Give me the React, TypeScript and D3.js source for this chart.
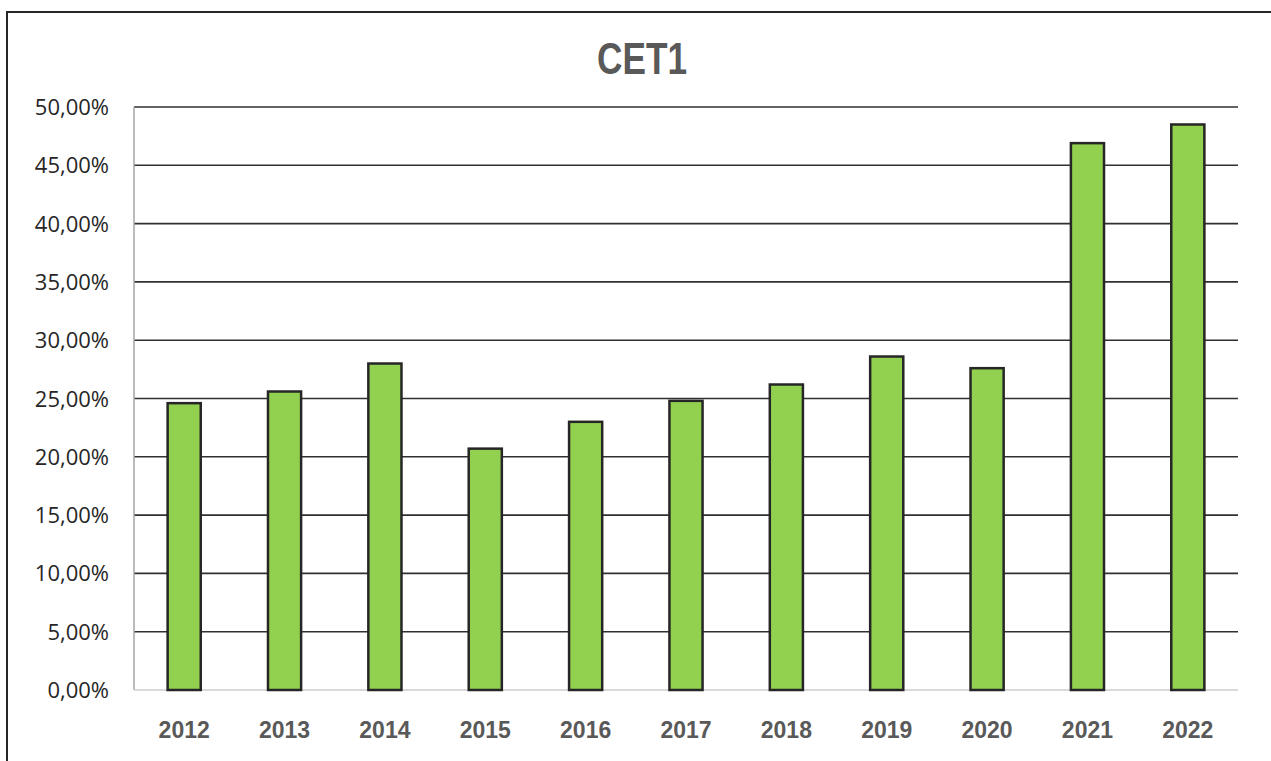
import React from 'react';
import * as d3 from 'd3';

const years = ['2012', '2013', '2014', '2015', '2016', '2017', '2018', '2019', '2020', '2021', '2022'];
const cet1 = [24.6, 25.6, 28.0, 20.7, 23.0, 24.8, 26.2, 28.6, 27.6, 46.9, 48.5];
const yTicks = [0, 5, 10, 15, 20, 25, 30, 35, 40, 45, 50];

const W = 1271;
const H = 761;
const margin = { top: 107, right: 33, bottom: 71, left: 134 };

export default function App() {
  const x = d3.scaleBand()
    .domain(years)
    .range([margin.left, W - margin.right])
    .paddingInner(0.67)
    .paddingOuter(0.335);

  const y = d3.scaleLinear()
    .domain([0, 50])
    .range([H - margin.bottom, margin.top]);

  const fmt = (v: number) => v.toFixed(2).replace('.', ',') + '%';

  return (
    <svg width={W} height={H} style={{ position: 'absolute', left: 0, top: 0, background: '#fff' }}>
      <rect x={7} y={12} width={W} height={H} fill="none" stroke="#262626" strokeWidth={2} />

      {/* narrow bold title, squeezed since no narrow font is installed */}
      <text transform="translate(642,74) scale(0.8,1)" textAnchor="middle" fill="#595959"
        fontFamily="'Liberation Sans', Arial, sans-serif"
        fontWeight="bold" fontSize={44}>CET1</text>

      {yTicks.filter(t => t > 0).map(t => (
        <line key={t} x1={margin.left} x2={W - margin.right} y1={y(t)} y2={y(t)}
          stroke="#303030" strokeWidth={1.6} />
      ))}
      <line x1={margin.left} x2={margin.left} y1={y(50)} y2={y(0)} stroke="#a6a6a6" strokeWidth={1.5} />
      <line x1={margin.left} x2={W - margin.right} y1={y(0)} y2={y(0)} stroke="#d9d9d9" strokeWidth={2} />

      {yTicks.map(t => (
        <text key={t} x={109} y={y(t) + 8} textAnchor="end" fill="#262626"
          fontFamily="'Open Sans', 'Noto Sans', sans-serif" fontSize={22}>{fmt(t)}</text>
      ))}

      {years.map((yr, i) => (
        <rect key={yr} x={x(yr)} y={y(cet1[i])} width={x.bandwidth()} height={y(0) - y(cet1[i])}
          fill="#92d050" stroke="#262626" strokeWidth={2.5} />
      ))}

      {years.map(yr => (
        <text key={yr} x={(x(yr) as number) + x.bandwidth() / 2} y={737.5} textAnchor="middle" fill="#595959"
          fontFamily="'Liberation Sans', Arial, sans-serif" fontWeight="bold" fontSize={23}>{yr}</text>
      ))}
    </svg>
  );
}
